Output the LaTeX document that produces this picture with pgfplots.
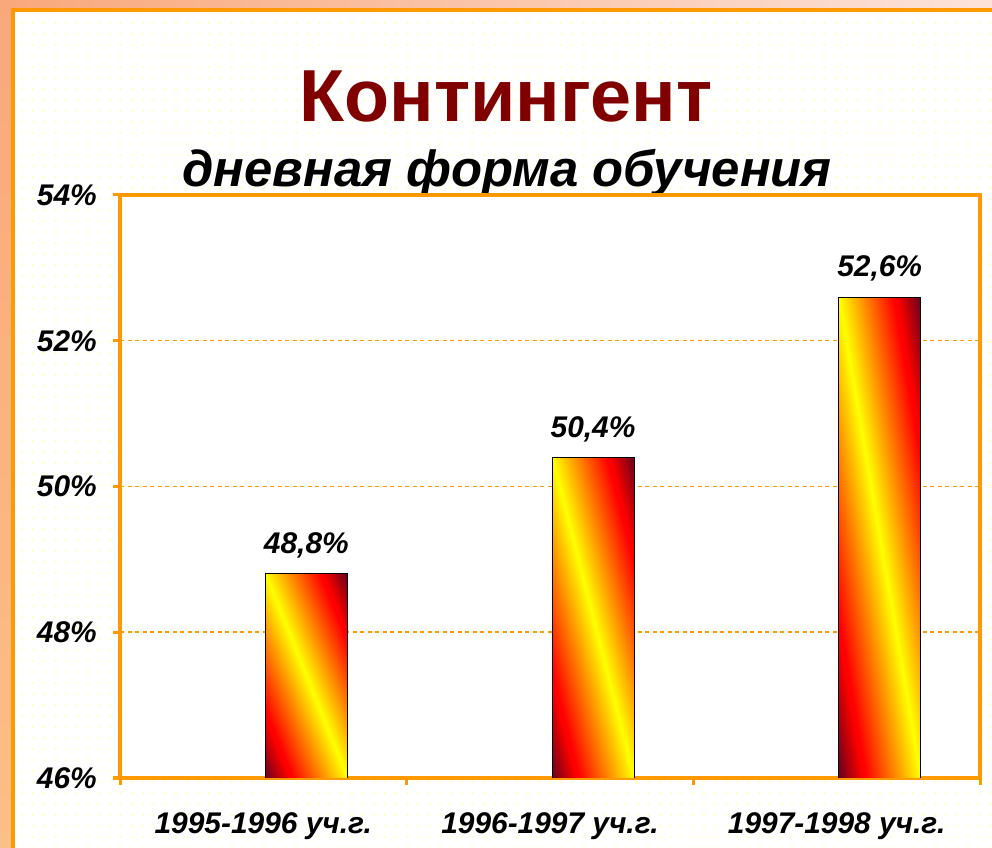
\documentclass[border=0pt]{standalone}
\usepackage{pgfplots}
\pgfplotsset{compat=1.18}
\usepackage{fontspec}
\setmainfont{Liberation Sans}
\usetikzlibrary{patterns.meta}
\definecolor{orangeA}{HTML}{FF9900}
\definecolor{maroonT}{HTML}{800000}
\definecolor{salmonL}{HTML}{F9A87B}
\definecolor{pinkR}{HTML}{FCE3DA}
\definecolor{peachB}{HTML}{FBC083}
% colour depends on the distance s from the top-left/bottom-right diagonal
\pgfdeclarefunctionalshading{barfun}{\pgfpoint{0bp}{0bp}}{\pgfpoint{100bp}{100bp}}{}{
  add 50 sub 50 div 1 sub abs
  dup 0.7 sub 2 mul 1 exch sub dup 1 gt {pop 1} if dup 0 lt {pop 0} if
  exch
  dup 1.5 mul 1 exch sub dup 0 lt {pop 0} if dup 1 gt {pop 1} if
  exch
  0.75 sub 0.5 mul dup 0 lt {pop 0} if
}
\begin{document}
\begin{tikzpicture}
\path[use as bounding box, clip] (0,0) rectangle (992bp,848bp);
\shade[left color=salmonL, right color=pinkR] (0,0) rectangle (992bp,848bp);
\shade[top color=salmonL, bottom color=peachB] (0,0) rectangle (14bp,848bp);
\fill[white] (12.5bp,-20bp) rectangle (1010bp,837.5bp);
\fill[pattern={Dots[radius=0.9bp, distance=11bp]}, pattern color=yellow!45] (12.5bp,-20bp) rectangle (1010bp,837.5bp);
\draw[orangeA, line width=4bp] (12.5bp,-20bp) rectangle (1010bp,837.5bp);
\node[anchor=base, text=maroonT, font=\fontsize{74}{74}\selectfont\bfseries, inner sep=0pt] at (506bp,726bp) {Контингент};
\node[anchor=base, font=\fontsize{51}{51}\selectfont\bfseries\itshape, inner sep=0pt] at (507bp,661bp) {дневная форма обучения};
\begin{axis}[
  at={(120bp,70bp)}, anchor=south west,
  width=860bp, height=583bp, scale only axis,
  xmin=-0.5, xmax=2.5, ymin=46, ymax=54,
  ytick={46,48,50,52,54},
  yticklabel={\pgfmathprintnumber{\tick}\%},
  xtick={0,1,2},
  xticklabels={1995-1996 уч.г., 1996-1997 уч.г., 1997-1998 уч.г.},
  minor xtick={-0.5,0.5,1.5,2.5},
  xtick pos=bottom, ytick pos=left,
  tick align=outside,
  major tick length=7bp, minor tick length=7bp,
  major x tick style={draw=none},
  every tick/.style={draw=orangeA, line width=3bp},
  axis line style={draw=orangeA, line width=3.5bp},
  ymajorgrids,
  grid style={draw=orangeA, dash pattern=on 4bp off 3.5bp, line width=1.5bp},
  axis background/.style={fill=white},
  /pgf/number format/assume math mode=true,
  tick label style={font=\fontsize{30}{30}\selectfont\bfseries\itshape},
  yticklabel style={inner sep=0pt, xshift=-16bp},
  xticklabel style={inner sep=0pt, anchor=north, yshift=-27bp},
  point meta=y,
  nodes near coords={\pgfmathprintnumber[fixed, fixed zerofill, precision=1, use comma]{\pgfplotspointmeta}\%},
  every node near coord/.append style={font=\fontsize{30}{30}\selectfont\bfseries\itshape, anchor=south, inner sep=0pt, yshift=15bp, xshift=43bp},
  barstyle/.style={ybar, bar width=82bp, bar shift=43bp, draw=black, line width=1bp, shading=barfun},
]
\addplot[barstyle] coordinates {(0,48.8)};
\addplot[barstyle] coordinates {(1,50.4)};
\addplot[barstyle] coordinates {(2,52.6)};
\end{axis}
\end{tikzpicture}
\end{document}
